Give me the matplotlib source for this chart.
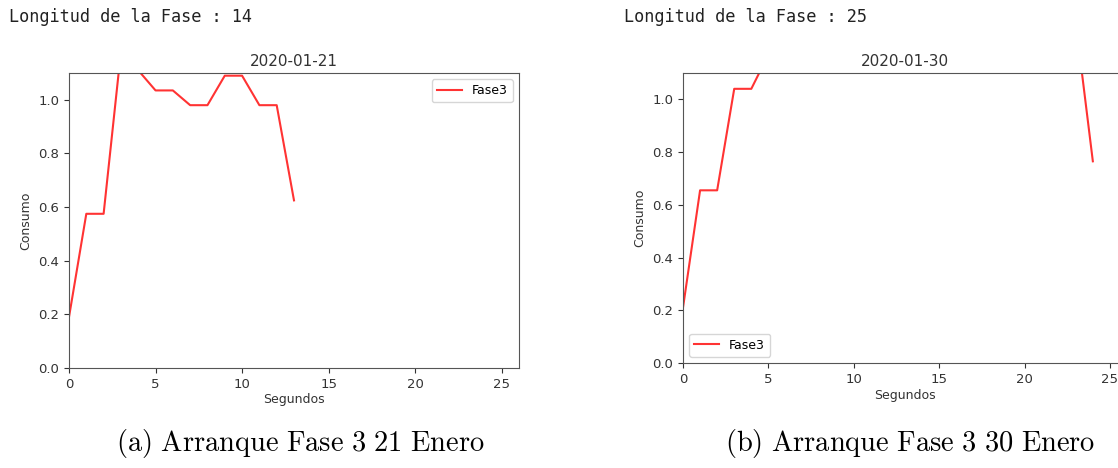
import matplotlib
matplotlib.use("Agg")
import matplotlib.pyplot as plt

plt.rcParams['mathtext.fontset'] = 'cm'

# 21 Enero - 14 segundos
seg_a = list(range(14))
fase3_a = [0.19, 0.575, 0.575, 1.18, 1.11, 1.035, 1.035, 0.98, 0.98, 1.09, 1.09, 0.98, 0.98, 0.625]

# 30 Enero - 25 segundos (la mayoria fuera del rango visible)
seg_b = list(range(25))
fase3_b = [0.21, 0.655, 0.655, 1.04, 1.04, 1.17, 1.25, 1.3, 1.32, 1.35, 1.33, 1.36, 1.34,
           1.35, 1.33, 1.36, 1.35, 1.34, 1.33, 1.35, 1.34, 1.32, 1.3, 1.29, 0.765]

fechas = ['2020-01-21', '2020-01-30']
longitudes = [14, 25]
pies = ['(a)\\ Arranque\\ Fase\\ 3\\ 21\\ Enero', '(b)\\ Arranque\\ Fase\\ 3\\ 30\\ Enero']

fig = plt.figure(figsize=(11.18, 4.68), dpi=100)
ax1 = fig.add_axes([69/1118, 1-368/468, 450/1118, 295/468])
ax2 = fig.add_axes([683/1118, 1-363/468, 444/1118, 290/468])

txt = '#333333'
for ax, x, y, fecha, loc in [(ax1, seg_a, fase3_a, fechas[0], 'upper right'),
                             (ax2, seg_b, fase3_b, fechas[1], 'lower left')]:
    ax.plot(x, y, color='red', alpha=0.8, lw=1.5, label='Fase3')
    ax.set_xlim(0, 26)
    ax.set_ylim(0, 1.1)
    ax.set_xticks([0, 5, 10, 15, 20, 25])
    ax.set_yticks([0.0, 0.2, 0.4, 0.6, 0.8, 1.0])
    ax.set_title(fecha, fontsize=11, color=txt, pad=5)
    ax.set_xlabel('Segundos', fontsize=9, color=txt, labelpad=2)
    ax.set_ylabel('Consumo', fontsize=9, color=txt, labelpad=4)
    ax.tick_params(labelsize=9.5, colors=txt, length=3.5)
    for s in ax.spines.values():
        s.set_color('#555555')
    ax.legend(loc=loc, fontsize=9)

fig.text(9/1118, 1-17/468, 'Longitud de la Fase : %d' % longitudes[0],
         family='DejaVu Sans Mono', fontsize=12.2, va='center', ha='left', color='#222222')
fig.text(624/1118, 1-17/468, 'Longitud de la Fase : %d' % longitudes[1],
         family='DejaVu Sans Mono', fontsize=12.2, va='center', ha='left', color='#222222')

fig.text(300/1118, 1-443/468, '$\\mathrm{%s}$' % pies[0], fontsize=20.5, ha='center', va='center')
fig.text(910/1118, 1-443/468, '$\\mathrm{%s}$' % pies[1], fontsize=20.5, ha='center', va='center')

fig.savefig('out.png', dpi=100)
